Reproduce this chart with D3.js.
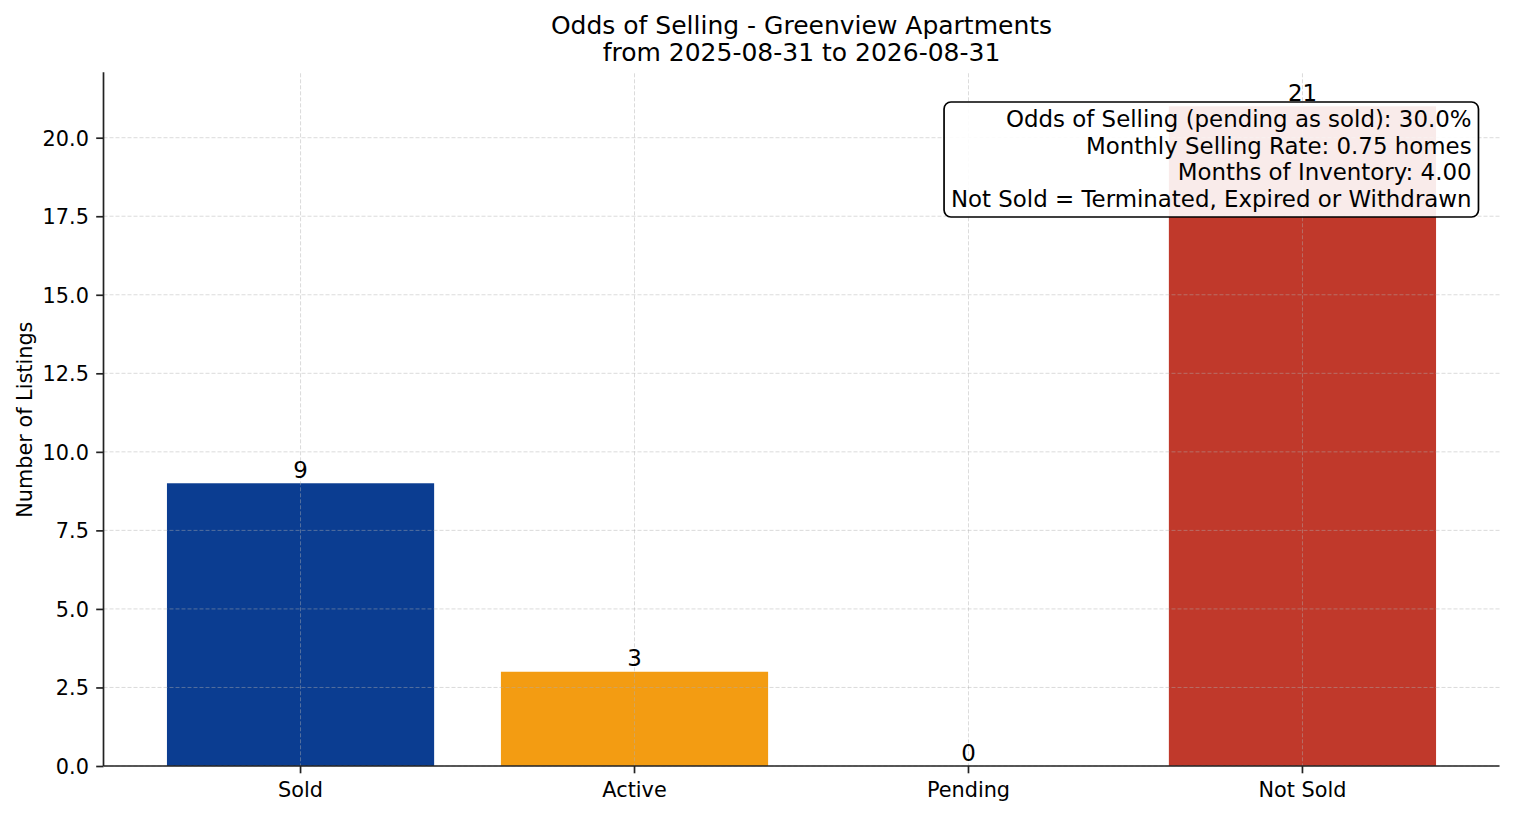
<!DOCTYPE html>
<html>
<head>
<meta charset="utf-8">
<script src="https://cdn.jsdelivr.net/npm/d3@7"></script>
<style>
  body { margin: 0; background: #fff; }
  text { font-family: "DejaVu Sans", sans-serif; fill: #000; }
</style>
</head>
<body>
<div id="chart"></div>
<script>
// chart data
var categories = ["Sold", "Active", "Pending", "Not Sold"];
var counts = [9, 3, 0, 21];
var yTicks = [0, 2.5, 5, 7.5, 10, 12.5, 15, 17.5, 20];
var titleLines = ["Odds of Selling - Greenview Apartments", "from 2025-08-31 to 2026-08-31"];
var infoLines = [
	"Odds of Selling (pending as sold): 30.0%",
	"Monthly Selling Rate: 0.75 homes",
	"Months of Inventory: 4.00",
	"Not Sold = Terminated, Expired or Withdrawn"
];
var barColors = ["#0b3d91", "#f39c12", "#7f8c8d", "#c0392b"];

var width = 1514,
	height = 816,
	plotLeft = 103.5,
	plotRight = 1499.5,
	plotTop = 73.3,
	plotBottom = 766;

var svg = d3.select("#chart").append("svg")
	.attr("width", width)
	.attr("height", height);

svg.append("rect")
	.attr("width", width)
	.attr("height", height)
	.attr("fill", "#fff");

var x = d3.scaleBand()
	.domain(categories)
	.range([plotLeft, plotRight])
	.paddingInner(0.2)
	.paddingOuter(0.19);

var y = d3.scaleLinear()
	.domain([0, d3.max(counts) * 1.05])
	.range([plotBottom, plotTop]);

var color = d3.scaleOrdinal()
	.domain(categories)
	.range(barColors);

var data = categories.map(function(c, i) { return {cat: c, value: counts[i]}; });

// bars
svg.append("g").selectAll("rect")
	.data(data)
	.enter().append("rect")
	.attr("x", function(d) { return x(d.cat); })
	.attr("y", function(d) { return y(d.value); })
	.attr("width", x.bandwidth())
	.attr("height", function(d) { return y(0) - y(d.value); })
	.attr("fill", function(d) { return color(d.cat); });

// grid (drawn over bars, semi transparent)
var grid = svg.append("g")
	.attr("stroke", "#b0b0b0")
	.attr("stroke-opacity", 0.45)
	.attr("stroke-width", 1)
	.attr("stroke-dasharray", "4,2");

grid.selectAll("line.h")
	.data(yTicks)
	.enter().append("line")
	.attr("class", "h")
	.attr("x1", plotLeft)
	.attr("x2", plotRight)
	.attr("y1", function(d) { return y(d); })
	.attr("y2", function(d) { return y(d); });

grid.selectAll("line.v")
	.data(categories)
	.enter().append("line")
	.attr("class", "v")
	.attr("x1", function(d) { return x(d) + x.bandwidth() / 2; })
	.attr("x2", function(d) { return x(d) + x.bandwidth() / 2; })
	.attr("y1", plotTop)
	.attr("y2", plotBottom);

// axes
var yAxis = svg.append("g")
	.attr("transform", "translate(" + plotLeft + ",0)")
	.call(d3.axisLeft(y)
		.tickValues(yTicks)
		.tickFormat(d3.format(".1f"))
		.tickSize(7.3)
		.tickPadding(7.3)
		.tickSizeOuter(0));

var xAxis = svg.append("g")
	.attr("transform", "translate(0," + plotBottom + ")")
	.call(d3.axisBottom(x)
		.tickSize(7.3)
		.tickPadding(7.3)
		.tickSizeOuter(0));

[xAxis, yAxis].forEach(function(a) {
	a.select(".domain").attr("stroke", "#222").attr("stroke-width", 1.7);
	a.selectAll(".tick line").attr("stroke", "#222").attr("stroke-width", 1.7);
	a.selectAll(".tick text")
		.attr("font-family", "DejaVu Sans")
		.attr("font-size", "20.8px")
		.attr("fill", "#000");
});
yAxis.select(".domain").attr("d", "M0," + (plotTop - 1) + "V" + plotBottom);
xAxis.select(".domain").attr("d", "M" + plotLeft + ",0H" + plotRight);
yAxis.selectAll(".tick text").attr("dy", "0.36em");
xAxis.selectAll(".tick text").attr("dy", "0.77em");

// value labels
svg.append("g").selectAll("text")
	.data(data)
	.enter().append("text")
	.attr("x", function(d) { return x(d.cat) + x.bandwidth() / 2; })
	.attr("y", function(d) { return y(d.value) - 5.4; })
	.attr("text-anchor", "middle")
	.attr("font-size", "22.9px")
	.text(function(d) { return d.value; });

// y label
svg.append("text")
	.attr("transform", "translate(32," + ((plotTop + plotBottom) / 2) + ") rotate(-90)")
	.attr("text-anchor", "middle")
	.attr("font-size", "20.8px")
	.text("Number of Listings");

// title
svg.append("g").selectAll("text")
	.data(titleLines)
	.enter().append("text")
	.attr("x", (plotLeft + plotRight) / 2)
	.attr("y", function(d, i) { return 34 + i * 27; })
	.attr("text-anchor", "middle")
	.attr("font-size", "25px")
	.text(function(d) { return d; });

// info box
var info = svg.append("g");
var box = info.append("rect");
var infoText = info.append("text")
	.attr("text-anchor", "end")
	.attr("font-size", "22.9px");
infoText.selectAll("tspan")
	.data(infoLines)
	.enter().append("tspan")
	.attr("x", plotLeft + 0.98 * (plotRight - plotLeft))
	.attr("y", function(d, i) { return 127 + i * 26.7; })
	.text(function(d) { return d; });

var bb = infoText.node().getBBox();
var pad = 6.9;
box.attr("x", bb.x - pad)
	.attr("y", 102)
	.attr("width", bb.width + pad * 2)
	.attr("height", 217 - 102)
	.attr("rx", pad)
	.attr("ry", pad)
	.attr("fill", "#fff")
	.attr("fill-opacity", 0.9)
	.attr("stroke", "#000")
	.attr("stroke-width", 1.7);
</script>
</body>
</html>
